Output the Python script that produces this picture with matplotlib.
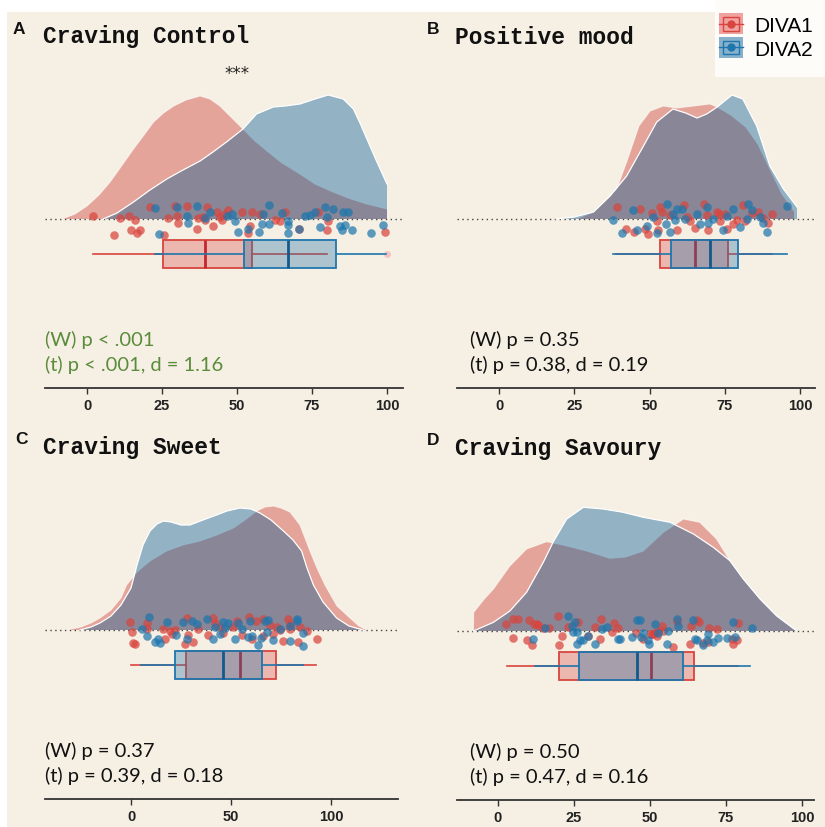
import numpy as np
import matplotlib.pyplot as plt
from matplotlib.patches import Rectangle, Patch
from matplotlib.lines import Line2D
from matplotlib.legend_handler import HandlerBase

# 画布大小（像素）
W, H = 825, 828

# ---------------- 数据 ----------------
titles = ["Craving Control", "Positive mood", "Craving Sweet", "Craving Savoury"]
letters = ["A", "B", "C", "D"]
stat_w = ["(W) p < .001", "(W) p = 0.35", "(W) p = 0.37", "(W) p = 0.50"]
stat_t = ["(t) p < .001, d = 1.16", "(t) p = 0.38, d = 0.19",
          "(t) p = 0.39, d = 0.18", "(t) p = 0.47, d = 0.16"]
group_names = ["DIVA1", "DIVA2"]

# 密度曲线（按图读取的相对高度）
a_red_kx = [-8.3, -4, 0, 4, 7.7, 11.5, 15.5, 19, 22.2, 25.5, 28.9, 33, 37.7, 41, 44.3, 48, 52, 56, 60, 65, 71, 76, 82, 88, 93.3, 100]
a_red_ky = [0, 5, 13, 24, 37, 53, 70, 84, 97, 106, 113, 119, 123, 120, 113, 102, 90, 78, 68, 56, 45, 35, 27, 20, 15, 10]
a_blue_kx = [5.4, 10, 15.5, 21, 26.6, 32, 37.7, 42, 46.5, 52, 56.5, 62.1, 66, 71, 76, 80.4, 85.4, 88.8, 91, 93.3, 96.5, 100]
a_blue_ky = [0, 6, 17, 29, 40, 49, 58, 67, 77, 90, 105, 112, 113, 115, 120, 124, 120, 110, 96, 80, 58, 35]

b_red_kx = [25.8, 31.4, 34.7, 39.1, 42.4, 46.5, 50.2, 54.6, 59, 64.6, 70.1, 72.5, 77, 82, 86, 90, 94, 98]
b_red_ky = [0, 7, 17, 30, 57, 93, 108, 113, 111, 113, 115, 112, 104, 92, 75, 50, 25, 8]
b_blue_kx = [19, 25, 31.4, 36.9, 42.4, 48, 52.4, 57.8, 62, 65.8, 69, 72.5, 77.4, 81, 85.6, 90, 94.5, 99]
b_blue_ky = [0, 2, 7, 23, 43, 73, 97, 110, 106, 101, 105, 112, 124, 120, 93, 53, 30, 12]

c_red_kx = [-32, -25, -20, -15.5, -10, -5, -2.2, 3, 9.5, 17.8, 26, 34.5, 43, 51.2, 57, 62.8, 67, 71.2, 75, 79.5, 84.5, 89.5, 93, 97, 103, 109.5, 114, 117.8]
c_red_ky = [0, 3, 7, 12, 20, 32, 45, 58, 69, 79, 85, 89, 95, 102, 110, 119, 123, 124, 122, 118, 105, 79, 62, 45, 24, 12, 4, 0]
c_blue_kx = [-25.5, -20, -15.5, -10, -5, 0, 3, 6, 9.5, 13, 16.2, 20, 25, 29.5, 36, 42.8, 48, 54.5, 60, 64.5, 70, 76.2, 81, 85.3, 88, 91.2, 96, 102.8, 109, 116]
c_blue_ky = [0, 3, 7, 14, 25, 42, 65, 85, 99, 106, 109, 108, 105, 105, 110, 115, 119, 122, 121, 117, 110, 99, 90, 79, 62, 45, 28, 12, 4, 0]

d_red_kx = [-8.1, -8.0, -4.5, -1.5, 3.9, 9.4, 16, 21.5, 29.2, 36.8, 42, 47.8, 54.4, 61, 66.4, 71.9, 76.3, 80.7, 86.2, 91.7, 98.3]
d_red_ky = [0, 18.7, 32, 42, 65, 82, 89.3, 86, 80, 72.7, 74, 80, 98.7, 112, 108.7, 92, 70.3, 52, 32, 15, 0]
d_blue_kx = [-8.1, -1.5, 3.9, 9.4, 14.9, 18.2, 22.6, 28.1, 34.6, 41.2, 47.8, 56.6, 64.3, 70.8, 76.3, 80.7, 86.2, 91.7, 98.3]
d_blue_ky = [0, 8.7, 20, 38.7, 68.7, 89.3, 112, 123.7, 122, 118.7, 113.7, 108.7, 97, 83.7, 70.3, 52, 32, 15, 0]

# 散点 (分数, 抖动)
a_red_pts = [(1.9, 3), (9.1, -16.3), (11.0, 1.3), (14.1, 3), (14.6, -10.7), (16.0, -1.3), (16.8, -14), (17.7, -11.3),
             (21.0, 12), (25.5, -16.3), (27.1, 1.3), (29.3, 12.7), (29.9, 3), (30.4, -4), (33.2, 12.7), (36.6, -9.7),
             (37.1, 1.3), (38.8, 2), (39.3, -1.3), (39.9, 12), (42.1, -7.3), (43.2, 7), (44.3, 2), (44.9, -0.7),
             (46.0, 5.3), (47.1, 8.7), (51.6, 7), (53.8, -14), (54.4, -7.3), (54.9, 7), (57.7, 5.3), (62.7, -1.3),
             (64.3, -2), (66.0, 7), (70.8, -9.7), (77.1, 7), (80.4, -2), (79.9, -11.3), (99.3, -13)]
a_blue_pts = [(22.7, 11.3), (24.1, -15.3), (29.9, 12), (33.2, 2.7), (33.8, -4), (36.6, 12.7), (39.3, 1.3), (41.0, 7),
              (46.6, 2.7), (48.2, 5.3), (49.3, -2), (50.4, -13), (53.8, -9.7), (57.4, -13), (58.2, -5.3), (58.8, 5.3),
              (60.5, -4.7), (60.8, 13.7), (64.9, 6), (67.1, -2), (67.1, -6.3), (67.1, -14), (70.5, -9.7), (72.7, 2.7),
              (74.3, 3.7), (76.0, 7), (77.7, -8), (79.3, 12), (79.9, 2), (82.1, 10.3), (84.3, -7.3), (84.9, -10.7),
              (85.4, 7), (86.0, -6.3), (87.1, 7), (88.2, -11.3), (94.6, -14), (98.8, -6.3)]

b_red_pts = [(39.1, 12), (42.2, -10.3), (44.9, -13), (46.8, 10.3), (50.7, 6), (52.6, -2), (53.5, 12), (52.9, -11.3),
             (54.0, 7), (56.8, 3.7), (59.0, -11.3), (61.5, 13.7), (62.3, 2), (63.5, -2), (65.1, -8.7), (68.1, 14.7),
             (69.0, 3.7), (69.5, -11.3), (72.3, 7), (73.2, 5.3), (73.4, -2), (75.1, 5.3), (75.6, -9.7), (77.9, -4.7),
             (79.0, -1.3), (81.2, 13.7), (81.7, -2), (83.9, 6), (86.2, 7), (87.8, 1.3), (89.5, -4), (90.6, 4.7),
             (49.6, -14.7), (48.5, -9.7)]
b_blue_pts = [(37.8, -0.7), (40.8, -14), (44.4, 9.3), (45.7, -10.7), (49.3, -7.3), (51.3, 2), (52.4, -14), (55.5, -5.3),
              (55.9, 14.7), (56.8, -13), (57.9, 5.3), (58.5, -1.3), (59.0, 10.3), (60.7, 10.3), (61.8, 0.3), (65.7, 5.3),
              (66.8, -4.7), (69.0, 12), (69.5, -4), (71.2, 0.3), (74.5, -11.3), (75.6, 2.7), (77.9, 10.3), (80.1, -8),
              (82.3, 0.3), (82.8, 14.7), (83.9, 8.7), (86.7, 2), (87.8, -4), (89.1, -13), (95.6, 12.7)]

c_red_pts = [(-0.5, 8), (0.3, -2), (1.2, -13.3), (2, -14.3), (7.8, 7.3), (16.2, 0.7), (17, -9.3), (19.5, -1), (22, 0),
             (27, -14.3), (27.8, 12.3), (28.7, -5.3), (30.8, -12), (33.7, 1.3), (38.7, -5.3), (41.2, 12.3), (42, 7.3),
             (44.5, 3.3), (46.2, -2.7), (51.2, 3.3), (52.8, 9), (55.3, -5.3), (59.2, 13.3), (60.3, -9.3), (62.5, 9),
             (66.2, 10.7), (66.2, -6), (69.5, 4.7), (71.2, -4.3), (72.8, 3.3), (74.5, 0), (76.2, -11), (78.7, 10.7),
             (79.5, 5.7), (79.5, 1.3), (83.7, -12), (84.5, 3.3), (87.8, -1), (92.8, -8.7), (7.8, 1.3), (20.3, -4.3)]
c_blue_pts = [(5.3, 0.7), (7.8, -6), (9.2, 13.3), (12, -12), (13.7, -9.3), (14.5, -13.3), (18.2, 8), (22.5, -5.3),
              (26.2, 8), (27.8, -9.3), (30.3, 9), (32.8, 5.7), (37.8, 11.3), (40.8, -8.7), (42, 3.3), (44.5, -4.3),
              (46.2, 8), (47, 2.3), (48.7, 7.3), (52, -9.3), (53.3, 6.7), (55.3, 0.7), (58.7, -6.7), (59.5, 9),
              (60.3, -6), (63.7, -15.3), (64.8, -7.7), (67, 9), (67.8, -2), (68.7, 10), (71.2, -10), (74.5, 0.7),
              (79.5, -11), (82.8, 9), (83.2, 11.3), (86.2, -2.7), (86.2, -16), (79.5, 4)]

d_red_pts = [(2.6, 7.3), (4.8, -6.7), (5.0, 12.3), (6.7, 12.3), (9.4, -9.3), (10.3, 10.7), (11.1, -14.3), (11.8, 6.7),
             (13.3, 5.7), (14.9, 3.3), (16.9, 3.3), (19.9, 14.7), (20.2, -14.3), (21.0, -5.3), (23.1, 4), (26.4, 9),
             (29.7, -5.3), (31.9, 4), (33.6, -7.7), (33.9, 12.3), (37.4, -1), (38.2, 8), (39.6, 3.3), (45.4, -2),
             (47.8, -7.7), (50.0, -2.7), (50.5, -3.3), (51.1, -2.7), (51.6, -2), (52.2, -5.3), (52.7, 0), (53.8, 4.7),
             (54.4, 0), (57.5, -16), (58.8, 10), (63.2, -12.7), (63.4, 4.7), (65.3, 10.7), (66.2, 9), (67.5, -12),
             (69.2, -11), (69.5, 3.3), (71.9, 2.3), (76.9, -7.7), (77.4, -13.3), (78.5, -9.3), (79.1, 8), (12.7, 7.3)]
d_blue_pts = [(11.6, -7.7), (15.5, 3.3), (22.9, 14.7), (24.2, 4.7), (24.8, -1), (25.3, 9), (25.9, -1), (25.9, -12.7),
              (27.0, -9.3), (28.1, -9.3), (29.7, -5.3), (31.9, -12.7), (34.1, 2.3), (35.7, 4), (39.6, -7.7), (40.1, -7.7),
              (44.0, -6), (45.6, 11.3), (46.7, 10.7), (46.9, -6), (47.8, -2), (49.5, -9.3), (49.8, -12.7), (51.6, 6.7),
              (52.7, -2), (55.5, -12.7), (56.0, 0), (58.8, 12.3), (59.3, 4.7), (64.2, 10.7), (64.8, -7.7), (65.3, -9.3),
              (67.5, -14.3), (68.6, -8.7), (69.2, -2.7), (72.5, -6.7), (75.2, -6.7), (77.4, 9), (78.0, -6), (83.5, 3.3),
              (70.8, -11)]

# 箱线图 [下须, Q1, 中位数, Q3, 上须]
a_red_box = [2, 25.4, 39.3, 55, 80]
a_blue_box = [22.7, 52.4, 67, 83, 99.5]
b_red_box = [39, 53.5, 65.1, 76.1, 90.6]
b_blue_box = [37.9, 57.1, 70.1, 79.4, 95.7]
c_red_box = [0, 27.5, 54.5, 72.5, 92.5]
c_blue_box = [5, 22, 46, 65.5, 86]
d_red_box = [3, 20.1, 50.3, 64.5, 79]
d_blue_box = [12.2, 26.6, 45.7, 60.9, 82.9]
a_red_fliers = [100]

ticks = [[0, 25, 50, 75, 100], [0, 25, 50, 75, 100], [0, 50, 100], [0, 25, 50, 75, 100]]

# ---------------- 样式 ----------------
bg = "#f6f0e4"
red, blue = "#d8453e", "#1f76ad"
red_dens, blue_dens = (0.82, 0.32, 0.28, 0.48), (0.04, 0.37, 0.59, 0.42)
red_box_fill, blue_box_fill = (0.85, 0.30, 0.30, 0.35), (0.15, 0.45, 0.65, 0.35)
red_med, blue_med = "#c4262c", "#13598c"

fig = plt.figure(figsize=(W / 100, H / 100), dpi=100, facecolor="white")


def px_rect(x0, y0, x1, y1):
    return [x0 / W, 1 - y1 / H, (x1 - x0) / W, (y1 - y0) / H]


# 米色背景和白色图例区
fig.patches.append(Rectangle((7 / W, 0), 1, 1 - 13 / H, transform=fig.transFigure,
                             facecolor=bg, edgecolor="none", zorder=-10))
fig.patches.append(Rectangle((715 / W, 1 - 78 / H), 1, 1, transform=fig.transFigure,
                             facecolor="#fdfcf9", edgecolor="none", zorder=-9))

# 每个面板: 坐标轴像素位置, 0点像素, 每单位像素
layout = [
    dict(x0=45, x1=403, spine=389, zero=87, scale=3.0, tx=43, lx=13, ty=37),
    dict(x0=457, x1=815, spine=389, zero=499, scale=3.01, tx=455, lx=427, ty=37),
    dict(x0=45, x1=398, spine=800, zero=131, scale=2.0, tx=43, lx=15, ty=448),
    dict(x0=457, x1=814, spine=801, zero=498, scale=3.04, tx=455, lx=427, ty=449),
]
kdes = [(a_red_kx, a_red_ky, a_blue_kx, a_blue_ky), (b_red_kx, b_red_ky, b_blue_kx, b_blue_ky),
        (c_red_kx, c_red_ky, c_blue_kx, c_blue_ky), (d_red_kx, d_red_ky, d_blue_kx, d_blue_ky)]
points = [(a_red_pts, a_blue_pts), (b_red_pts, b_blue_pts), (c_red_pts, c_blue_pts), (d_red_pts, d_blue_pts)]
boxes = [(a_red_box, a_blue_box), (b_red_box, b_blue_box), (c_red_box, c_blue_box), (d_red_box, d_blue_box)]
fliers = [a_red_fliers, [], [], []]

base_off = 169   # 密度基线到坐标轴线的像素距离
top_off = 160

for i in range(4):
    L = layout[i]
    ax = fig.add_axes(px_rect(L["x0"], L["spine"] - base_off - top_off, L["x1"], L["spine"]))
    ax.set_facecolor("none")
    xmin = (L["x0"] - L["zero"]) / L["scale"]
    xmax = (L["x1"] - L["zero"]) / L["scale"]
    ax.set_xlim(xmin, xmax)
    ax.set_ylim(-base_off, top_off)
    for s in ["top", "left", "right"]:
        ax.spines[s].set_visible(False)
    ax.spines["bottom"].set_color("#333333")
    ax.spines["bottom"].set_linewidth(1.3)
    ax.set_yticks([])
    ax.set_xticks(ticks[i])
    ax.set_xticklabels([str(t) for t in ticks[i]], fontweight="bold", fontsize=10.5,
                       family="Liberation Sans", color="#222222")
    ax.tick_params(axis="x", length=4, width=1, color="#333333", pad=3)

    # 基线虚点
    ax.plot([xmin, xmax], [0, 0], color="#444444", lw=1.0, ls=(0, (1, 2.5)), zorder=1)

    rkx, rky, bkx, bky = kdes[i]
    ax.fill_between(rkx, 0, rky, facecolor=red_dens, lw=0, zorder=2)
    ax.plot(rkx, rky, color="white", lw=0.8, alpha=0.6, zorder=2.1)
    ax.fill_between(bkx, 0, bky, facecolor=blue_dens, lw=0, zorder=3)
    ax.plot(bkx, bky, color="white", lw=0.9, zorder=3.1)

    rp = np.array(points[i][0])
    bp = np.array(points[i][1])
    ax.scatter(rp[:, 0], rp[:, 1], s=38, color=red, alpha=0.72, lw=0, zorder=5)
    ax.scatter(bp[:, 0], bp[:, 1], s=38, color=blue, alpha=0.72, lw=0, zorder=5)

    for stats, ec, fc, mc, fl, z in [(boxes[i][0], red, red_box_fill, red_med, fliers[i], 6),
                                      (boxes[i][1], blue, blue_box_fill, blue_med, [], 7)]:
        st = dict(whislo=stats[0], q1=stats[1], med=stats[2], q3=stats[3], whishi=stats[4], fliers=fl)
        ax.bxp([st], positions=[-35], widths=28, orientation="horizontal", patch_artist=True,
               showcaps=False, manage_ticks=False, zorder=z,
               boxprops=dict(facecolor=fc, edgecolor=ec, lw=1.3),
               whiskerprops=dict(color=ec, lw=1.2),
               medianprops=dict(color=mc, lw=2),
               flierprops=dict(marker="o", markerfacecolor="#f2b8b8", markeredgecolor="none",
                               markersize=5, alpha=0.8))

    # 统计文字
    tcol = "#5a8c3c" if i == 0 else "#111111"
    tx = (L["x0"] + (0 if i % 2 == 0 else 13)) / W
    fig.text(tx, 1 - (L["spine"] - 49) / H, stat_w[i],
             fontsize=14.5, family="Lato", color=tcol, va="center", ha="left")
    fig.text(tx, 1 - (L["spine"] - 24) / H, stat_t[i],
             fontsize=14.5, family="Lato", color=tcol, va="center", ha="left")

    # 标题
    fig.text(L["tx"] / W, 1 - L["ty"] / H, titles[i], fontsize=16.5, family="Liberation Mono",
             fontweight="bold", color="#111111", va="center", ha="left")
    fig.text(L["lx"] / W, 1 - (L["ty"] - 8) / H, letters[i], fontsize=12.5, family="Liberation Sans",
             fontweight="bold", color="#111111", va="center", ha="left")

    if i == 0:
        ax.text(50, 146, "***", fontsize=12, ha="center", va="center", color="#222222")


# 图例符号：小箱线图
class BoxGlyph(HandlerBase):
    def create_artists(self, legend, orig_handle, xd, yd, w, h, fontsize, trans):
        c = orig_handle.get_edgecolor()
        f = orig_handle.get_facecolor()
        x0, y0 = -xd, -yd
        arts = [Rectangle((x0, y0), w, h, facecolor=f, edgecolor="none", transform=trans),
                Line2D([x0, x0 + w], [y0 + h / 2] * 2, color=c, lw=1, transform=trans),
                Rectangle((x0 + 0.18 * w, y0 + 0.18 * h), 0.64 * w, 0.64 * h, facecolor="none",
                          edgecolor=c, lw=1, transform=trans),
                Line2D([x0 + w / 2], [y0 + h / 2], marker="o", ms=5, color=c, transform=trans)]
        return arts


handles = [Patch(facecolor=(0.90, 0.35, 0.35, 0.55), edgecolor=red),
           Patch(facecolor=(0.15, 0.45, 0.65, 0.55), edgecolor=blue)]
fig.legend(handles, group_names, loc="upper left", bbox_to_anchor=(719 / W, 1 - 14 / H),
           handler_map={Patch: BoxGlyph()}, frameon=False,
           prop=dict(family="Liberation Sans", size=15), handlelength=1.15, handleheight=1.2,
           handletextpad=0.55, labelspacing=0.1, borderpad=0, borderaxespad=0)

plt.savefig("out.png", dpi=100, facecolor=fig.get_facecolor())
